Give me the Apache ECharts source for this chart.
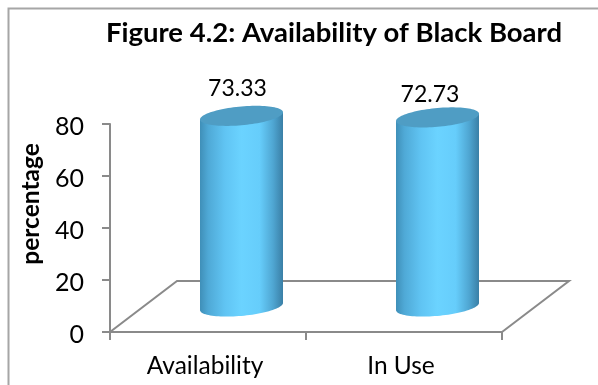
<!DOCTYPE html>
<html>
<head>
<meta charset="utf-8">
<style>html,body{margin:0;padding:0;background:#fff}#chart{width:598px;height:385px}</style>
<script src="https://cdn.jsdelivr.net/npm/echarts@6/dist/echarts.min.js"></script>
</head>
<body>
<div id="chart"></div>
<script>
const categories = ['Availability', 'In Use'];
const percentages = [73.33, 72.73];
const yTicks = { min: 0, max: 80, interval: 20 };

// Pseudo-3D floor depth and cylinder shape, in pixels
const DEPTH_X = 67, DEPTH_Y = 51;
const CYL_HALF = 41.5, CYL_RY = 9.4, CYL_TILT = 3.6;
const LABEL_SHIFT = [[-4, -27], [-7.5, -23]];
const FONT = 'Lato';
const AXIS_GREY = '#8a8a8a';

const sideFill = {
  type: 'linear', x: 0, y: 0, x2: 1, y2: 0,
  colorStops: [
    { offset: 0, color: '#3f8fb8' },
    { offset: 0.1, color: '#4fa9d6' },
    { offset: 0.3, color: '#60c4f3' },
    { offset: 0.5, color: '#6bd3ff' },
    { offset: 0.72, color: '#66cdfb' },
    { offset: 0.88, color: '#4fa6d2' },
    { offset: 1, color: '#3a7fa6' }
  ]
};

// Point on a tilted ellipse; angle 0 is the right end, PI/2 the lower side
function rimPoint(cx, cy, angle) {
  return [
    cx + CYL_HALF * Math.cos(angle),
    cy - CYL_TILT * Math.cos(angle) + CYL_RY * Math.sin(angle)
  ];
}

function rim(cx, cy, from, to, steps) {
  const pts = [];
  for (let k = 0; k <= steps; k++) {
    pts.push(rimPoint(cx, cy, from + (to - from) * k / steps));
  }
  return pts;
}

function renderFloor(params, api) {
  const g = params.coordSys;
  const bottom = g.y + g.height, right = g.x + g.width;
  return {
    type: 'polyline',
    silent: true,
    shape: { points: [
      [g.x, bottom],
      [g.x + DEPTH_X, bottom - DEPTH_Y],
      [right + DEPTH_X, bottom - DEPTH_Y],
      [right, bottom]
    ] },
    style: { fill: null, stroke: AXIS_GREY, lineWidth: 2 }
  };
}

function renderCylinder(params, api) {
  const i = api.value(0);
  const base = api.coord([i, 0]);
  const top = api.coord([i, api.value(1)]);
  const cx = base[0] + DEPTH_X / 2;
  const by = base[1] - DEPTH_Y / 2;
  const ty = top[1] - DEPTH_Y / 2;
  const shift = LABEL_SHIFT[i];
  const side = rim(cx, by, 0, Math.PI, 48).concat([
    rimPoint(cx, ty, Math.PI),
    rimPoint(cx, ty, 0)
  ]);
  return {
    type: 'group',
    children: [
      { type: 'polygon', shape: { points: side }, style: { fill: sideFill } },
      { type: 'polygon', shape: { points: rim(cx, ty, 0, Math.PI * 2, 96) }, style: { fill: '#4f9dc4' } },
      {
        type: 'text',
        style: {
          x: cx + shift[0], y: ty + shift[1],
          text: api.value(1).toFixed(2),
          fill: '#000', font: `23px ${FONT}`,
          align: 'center', verticalAlign: 'middle'
        }
      }
    ]
  };
}

const chart = echarts.init(document.getElementById('chart'), null, { renderer: 'canvas' });
chart.setOption({
  animation: false,
  backgroundColor: '#fff',
  title: {
    text: 'Figure 4.2: Availability of Black Board',
    left: 329, top: 14, textAlign: 'center',
    textStyle: { fontFamily: FONT, fontSize: 27.5, fontWeight: 'bold', color: '#000' }
  },
  grid: { left: 110, top: 124, width: 392, height: 208 },
  xAxis: {
    type: 'category',
    data: categories,
    axisLine: { lineStyle: { color: AXIS_GREY, width: 2 } },
    axisTick: { show: true, length: 8, alignWithLabel: false, lineStyle: { color: AXIS_GREY, width: 2 } },
    axisLabel: { color: '#000', fontFamily: FONT, fontSize: 24.5, margin: 22, padding: [0, 6, 0, 0] },
    splitLine: { show: false }
  },
  yAxis: {
    type: 'value',
    min: yTicks.min, max: yTicks.max, interval: yTicks.interval,
    name: 'percentage',
    nameLocation: 'middle',
    nameGap: 66,
    nameRotate: 90,
    nameTextStyle: { color: '#000', fontFamily: FONT, fontSize: 24.5, fontWeight: 'bold', padding: [0, 0, 0, 48] },
    axisLine: { show: true, lineStyle: { color: AXIS_GREY, width: 2 } },
    axisTick: { show: true, length: 8, lineStyle: { color: AXIS_GREY, width: 2 } },
    axisLabel: { color: '#000', fontFamily: FONT, fontSize: 25, margin: 26, verticalAlign: 'top', padding: [-10, 0, 0, 0] },
    splitLine: { show: false }
  },
  graphic: [{
    type: 'rect',
    silent: true,
    shape: { x: 8.5, y: 8.5, width: 620, height: 420 },
    style: { fill: null, stroke: '#a6a6a6', lineWidth: 2 }
  }],
  series: [
    { type: 'custom', z: 1, silent: true, renderItem: renderFloor, data: [[0, 0]], encode: { x: 0, y: 1 } },
    {
      type: 'custom',
      z: 3,
      renderItem: renderCylinder,
      encode: { x: 0, y: 1 },
      data: percentages.map((v, i) => [i, v])
    }
  ]
});
</script>
</body>
</html>
